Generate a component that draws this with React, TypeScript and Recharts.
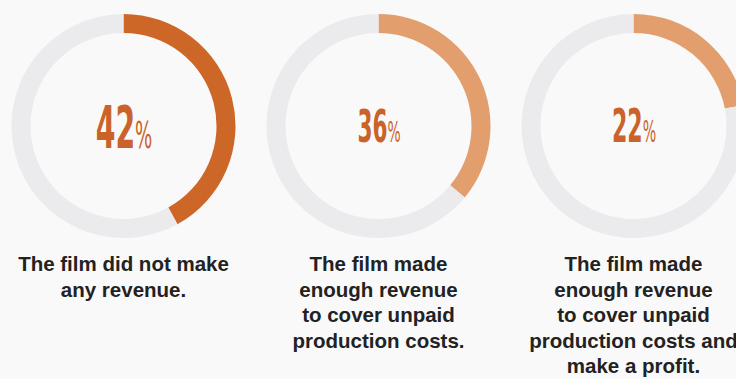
import { PieChart, Pie, Cell } from "recharts";

const shares = [42, 36, 22];
const arcColors = ["#cd6728", "#e29e6c", "#e29e6c"];
const numberSizes = [59, 45, 46];
const captions = [
  ["The film did not make", "any revenue."],
  ["The film made", "enough revenue", "to cover unpaid", "production costs."],
  ["The film made", "enough revenue", "to cover unpaid", "production costs and", "make a profit."],
];

const TRACK = "#ebebed";
const COL_W = 255;

function Donut({ idx }: { idx: number }) {
  const v = shares[idx];
  const data = [
    { name: "share", value: v },
    { name: "rest", value: 100 - v },
  ];
  const fs = numberSizes[idx];
  return (
    <div
      style={{
        position: "absolute",
        left: idx * COL_W - 4,
        top: 0,
        width: COL_W,
        height: 379,
      }}
    >
      <PieChart width={COL_W} height={244}>
        <Pie
          data={data}
          dataKey="value"
          cx="50%"
          cy={121}
          innerRadius={93}
          outerRadius={112}
          startAngle={90}
          endAngle={-270}
          stroke="none"
          isAnimationActive={false}
        >
          <Cell fill={arcColors[idx]} />
          <Cell fill={TRACK} />
        </Pie>
      </PieChart>
      <div
        style={{
          position: "absolute",
          left: 0,
          width: COL_W,
          top: (idx === 0 ? 148 : 142) - 0.846 * fs,
          textAlign: "center",
          lineHeight: 1,
          color: "#c9632a",
          fontFamily: "'DejaVu Sans'",
          whiteSpace: "nowrap",
        }}
      >
        <span style={{ display: "inline-block", transform: "scaleX(0.48)" }}>
          <span style={{ fontSize: fs, fontWeight: 700 }}>{v}</span>
          <span style={{ fontSize: fs * 0.64, fontWeight: 400 }}>%</span>
        </span>
      </div>
      <div
        style={{
          position: "absolute",
          left: -20,
          width: COL_W + 40,
          top: 251,
          textAlign: "center",
          fontFamily: "'Liberation Sans', Arial, sans-serif",
          fontWeight: 700,
          fontSize: 20.5,
          lineHeight: "25.5px",
          color: "#222222",
          whiteSpace: "nowrap",
        }}
      >
        {captions[idx].map((line) => (
          <div key={line}>{line}</div>
        ))}
      </div>
    </div>
  );
}

export default function App() {
  return (
    <div
      style={{
        position: "fixed",
        left: 0,
        top: 0,
        width: 736,
        height: 379,
        overflow: "hidden",
        background: "#f9f9f9",
      }}
    >
      {shares.map((_, i) => (
        <Donut key={i} idx={i} />
      ))}
    </div>
  );
}
